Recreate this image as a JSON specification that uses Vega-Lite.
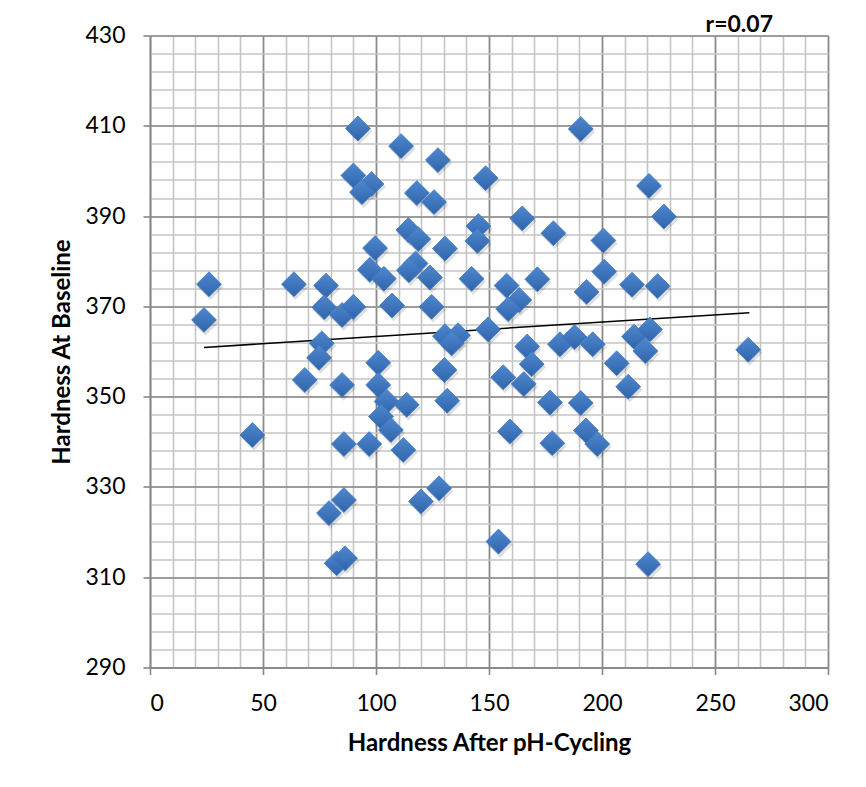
{
  "$schema": "https://vega.github.io/schema/vega-lite/v6.json",
  "width": 678,
  "height": 632,
  "autosize": {"type": "none"},
  "padding": {"left": 150, "top": 35.5, "right": 38, "bottom": 119.5},
  "background": "white",
  "title": {
    "text": "r=0.07",
    "anchor": "end",
    "frame": "group",
    "baseline": "alphabetic",
    "offset": -11,
    "dy": 19,
    "dx": -55,
    "font": "Lato",
    "fontSize": 23,
    "fontWeight": "bold",
    "color": "#000000"
  },
  "config": {
    "view": {"stroke": null},
    "axis": {"labelFont": "Lato", "titleFont": "Lato", "labelColor": "#000000", "titleColor": "#000000"}
  },
  "datasets": {
    "hardness": [
      {"after": 92.0, "baseline": 409.4},
      {"after": 111.1, "baseline": 405.5},
      {"after": 127.4, "baseline": 402.4},
      {"after": 190.6, "baseline": 409.3},
      {"after": 148.5, "baseline": 398.4},
      {"after": 220.8, "baseline": 396.7},
      {"after": 90.0, "baseline": 399.0},
      {"after": 98.0, "baseline": 397.1},
      {"after": 93.8, "baseline": 395.3},
      {"after": 118.1, "baseline": 395.1},
      {"after": 125.7, "baseline": 393.1},
      {"after": 227.4, "baseline": 389.9},
      {"after": 164.7, "baseline": 389.5},
      {"after": 178.5, "baseline": 386.2},
      {"after": 145.3, "baseline": 387.8},
      {"after": 144.9, "baseline": 384.5},
      {"after": 200.6, "baseline": 384.6},
      {"after": 114.3, "baseline": 386.9},
      {"after": 118.7, "baseline": 384.9},
      {"after": 130.5, "baseline": 382.8},
      {"after": 99.6, "baseline": 382.9},
      {"after": 117.5, "baseline": 379.5},
      {"after": 114.6, "baseline": 378.0},
      {"after": 97.3, "baseline": 378.1},
      {"after": 103.5, "baseline": 376.1},
      {"after": 123.9, "baseline": 376.4},
      {"after": 142.3, "baseline": 376.1},
      {"after": 201.0, "baseline": 377.7},
      {"after": 157.8, "baseline": 374.6},
      {"after": 163.4, "baseline": 371.4},
      {"after": 158.5, "baseline": 369.4},
      {"after": 171.4, "baseline": 376.0},
      {"after": 193.2, "baseline": 373.2},
      {"after": 213.3, "baseline": 374.8},
      {"after": 224.6, "baseline": 374.5},
      {"after": 26.1, "baseline": 374.9},
      {"after": 23.9, "baseline": 367.0},
      {"after": 63.7, "baseline": 374.9},
      {"after": 77.9, "baseline": 374.6},
      {"after": 77.1, "baseline": 369.8},
      {"after": 85.0, "baseline": 368.1},
      {"after": 90.0, "baseline": 369.9},
      {"after": 107.1, "baseline": 370.2},
      {"after": 124.6, "baseline": 369.9},
      {"after": 130.5, "baseline": 363.4},
      {"after": 136.3, "baseline": 363.6},
      {"after": 133.5, "baseline": 361.8},
      {"after": 149.6, "baseline": 364.9},
      {"after": 166.9, "baseline": 361.1},
      {"after": 168.9, "baseline": 357.2},
      {"after": 181.4, "baseline": 361.6},
      {"after": 187.9, "baseline": 363.2},
      {"after": 195.9, "baseline": 361.6},
      {"after": 214.2, "baseline": 363.3},
      {"after": 221.2, "baseline": 364.9},
      {"after": 219.2, "baseline": 360.1},
      {"after": 206.5, "baseline": 357.4},
      {"after": 76.0, "baseline": 361.8},
      {"after": 74.8, "baseline": 358.6},
      {"after": 68.5, "baseline": 353.7},
      {"after": 85.0, "baseline": 352.6},
      {"after": 101.0, "baseline": 357.5},
      {"after": 101.0, "baseline": 352.6},
      {"after": 104.7, "baseline": 348.9},
      {"after": 113.6, "baseline": 348.2},
      {"after": 102.2, "baseline": 345.6},
      {"after": 106.6, "baseline": 342.6},
      {"after": 130.3, "baseline": 355.9},
      {"after": 131.5, "baseline": 349.1},
      {"after": 156.3, "baseline": 354.3},
      {"after": 165.4, "baseline": 352.8},
      {"after": 211.6, "baseline": 352.2},
      {"after": 177.0, "baseline": 348.7},
      {"after": 190.6, "baseline": 348.6},
      {"after": 159.3, "baseline": 342.3},
      {"after": 178.0, "baseline": 339.7},
      {"after": 192.9, "baseline": 342.5},
      {"after": 197.9, "baseline": 339.5},
      {"after": 264.7, "baseline": 360.4},
      {"after": 45.3, "baseline": 341.5},
      {"after": 85.8, "baseline": 339.5},
      {"after": 97.0, "baseline": 339.5},
      {"after": 112.1, "baseline": 338.2},
      {"after": 79.2, "baseline": 324.2},
      {"after": 85.8, "baseline": 327.1},
      {"after": 119.9, "baseline": 326.8},
      {"after": 127.9, "baseline": 329.7},
      {"after": 154.2, "baseline": 317.9},
      {"after": 82.6, "baseline": 313.1},
      {"after": 86.3, "baseline": 314.2},
      {"after": 220.4, "baseline": 312.9}
    ],
    "trend": [
      {"after": 23.9, "baseline": 360.9},
      {"after": 265.2, "baseline": 368.6}
    ]
  },
  "resolve": {"axis": {"x": "independent", "y": "independent"}},
  "layer": [
    {
      "data": {"name": "hardness"},
      "mark": {"type": "point", "shape": "diamond", "filled": true, "size": 660, "fill": "#000000", "fillOpacity": 0.13, "xOffset": 1.5, "yOffset": 3},
      "encoding": {
        "x": {"field": "after", "type": "quantitative", "scale": {"domain": [0, 300], "nice": false, "zero": false},
          "axis": {"orient": "bottom", "values": [0,10,20,30,40,50,60,70,80,90,100,110,120,130,140,150,160,170,180,190,200,210,220,230,240,250,260,270,280,290,300],
            "grid": true, "gridColor": "#c4c4c4", "gridWidth": 1.6, "labels": false, "ticks": false, "domain": false, "title": null}},
        "y": {"field": "baseline", "type": "quantitative", "scale": {"domain": [290, 430], "nice": false, "zero": false},
          "axis": {"orient": "left", "values": [290,294,298,302,306,310,314,318,322,326,330,334,338,342,346,350,354,358,362,366,370,374,378,382,386,390,394,398,402,406,410,414,418,422,426,430],
            "grid": true, "gridColor": "#c4c4c4", "gridWidth": 1.6, "labels": false, "ticks": false, "domain": false, "title": null}}
      }
    },
    {
      "data": {"name": "trend"},
      "mark": {"type": "line", "color": "#000000", "strokeWidth": 1.6},
      "encoding": {
        "x": {"field": "after", "type": "quantitative",
          "axis": {"orient": "bottom", "values": [0, 50, 100, 150, 200, 250, 300], "grid": true, "gridColor": "#8a8a8a", "gridWidth": 1.6,
            "domain": true, "domainColor": "#868686", "domainWidth": 1.6, "ticks": true, "tickColor": "#868686", "tickWidth": 1.6, "tickSize": 7,
            "labelFontSize": 23, "labelPadding": 18, "title": "Hardness After pH-Cycling", "titleFontSize": 24, "titleFontWeight": "bold", "titlePadding": 16}},
        "y": {"field": "baseline", "type": "quantitative",
          "axis": {"orient": "left", "values": [290, 310, 330, 350, 370, 390, 410, 430], "grid": true, "gridColor": "#8a8a8a", "gridWidth": 1.6,
            "domain": true, "domainColor": "#868686", "domainWidth": 1.6, "ticks": true, "tickColor": "#868686", "tickWidth": 1.6, "tickSize": 7,
            "labelFontSize": 23, "labelPadding": 18, "title": "Hardness At Baseline", "titleFontSize": 24, "titleFontWeight": "bold", "titlePadding": 10}}
      }
    },
    {
      "data": {"name": "hardness"},
      "mark": {"type": "point", "shape": "diamond", "filled": true, "size": 620, "opacity": 1,
        "fill": {"gradient": "linear", "x1": 0, "y1": 0, "x2": 0, "y2": 1, "stops": [{"offset": 0, "color": "#4f88cf"}, {"offset": 1, "color": "#2f64aa"}]},
        "stroke": "#3f78c2", "strokeWidth": 0.8},
      "encoding": {
        "x": {"field": "after", "type": "quantitative", "axis": null},
        "y": {"field": "baseline", "type": "quantitative", "axis": null}
      }
    }
  ]
}
